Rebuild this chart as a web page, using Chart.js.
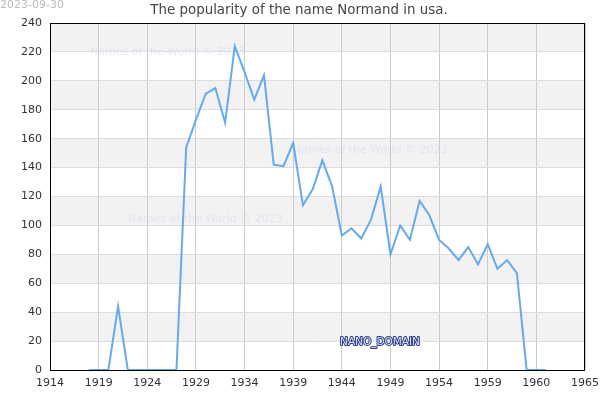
<!DOCTYPE html>
<html>
<head>
<meta charset="utf-8">
<script src="https://cdn.jsdelivr.net/npm/chart.js@4/dist/chart.umd.min.js"></script>
<style>
  html, body { margin: 0; padding: 0; background: #fff; }
  #wrap { width: 600px; height: 400px; }
</style>
</head>
<body>
<div id="wrap"><canvas id="chart" width="600" height="400"></canvas></div>
<script>
// Data
const years = [1918, 1919, 1920, 1921, 1922, 1923, 1924, 1925, 1926, 1927, 1928, 1929,
  1930, 1931, 1932, 1933, 1934, 1935, 1936, 1937, 1938, 1939, 1940, 1941, 1942, 1943,
  1944, 1945, 1946, 1947, 1948, 1949, 1950, 1951, 1952, 1953, 1954, 1955, 1956, 1957,
  1958, 1959, 1960, 1961, 1962, 1963, 1964, 1965];
const counts = [0, 0, 0, 44, 0, 0, 0, 0, 0, 0, 154, 173,
  191, 195, 171, 224, 206, 187, 204, 142, 141, 157, 114, 125, 145, 127,
  93, 98, 91, 104, 127, 80, 100, 90, 117, 107, 90, 84, 76, 85,
  73, 87, 70, 76, 67, 0, 0, 0];
const xTickLabels = ['1914', '1919', '1924', '1929', '1934', '1939', '1944', '1949', '1954', '1959', '1960', '1965'];
const yTicks = [0, 20, 40, 60, 80, 100, 120, 140, 160, 180, 200, 220, 240];

const FONT = '"DejaVu Sans", sans-serif';

// Background bands, border, title and watermarks
const decorPlugin = {
  id: 'decor',
  beforeDraw(chart) {
    const ctx = chart.ctx;
    const area = chart.chartArea;
    const y = chart.scales.y;
    ctx.save();
    ctx.fillStyle = '#ffffff';
    ctx.fillRect(0, 0, chart.width, chart.height);
    ctx.fillStyle = '#f2f2f2';
    for (let v = 20; v < 240; v += 40) {
      const top = y.getPixelForValue(v + 20);
      const bot = y.getPixelForValue(v);
      ctx.fillRect(area.left, top, area.right - area.left, bot - top);
    }
    ctx.restore();
  },
  beforeDatasetsDraw(chart) {
    const ctx = chart.ctx;
    ctx.save();
    ctx.font = '11px ' + FONT;
    ctx.fillStyle = 'rgba(215,215,240,0.55)';
    ctx.textBaseline = 'middle';
    ctx.fillText('Names of the World © 2023', 90, 52);
    ctx.fillText('Names of the World © 2023', 293, 150);
    ctx.fillText('Names of the World © 2023', 128, 219);
    ctx.restore();
  },
  afterDraw(chart) {
    const ctx = chart.ctx;
    const area = chart.chartArea;
    ctx.save();
    ctx.strokeStyle = '#000';
    ctx.lineWidth = 1;
    ctx.strokeRect(area.left + 0.5, area.top + 0.5, area.right - area.left - 1, area.bottom - area.top);
    // title
    ctx.font = '13.4px ' + FONT;
    ctx.fillStyle = '#444';
    ctx.textAlign = 'center';
    ctx.textBaseline = 'middle';
    ctx.fillText('The popularity of the name Normand in usa.', 299, 11);
    // date
    ctx.font = '11px ' + FONT;
    ctx.fillStyle = '#bbb';
    ctx.textAlign = 'left';
    ctx.fillText('2023-09-30', 0, 5);
    // NANO_DOMAIN
    ctx.font = '10.5px ' + FONT;
    ctx.textAlign = 'center';
    ctx.lineWidth = 2;
    ctx.lineJoin = 'round';
    ctx.strokeStyle = '#33438a';
    ctx.strokeText('NANO_DOMAIN', 380, 342);
    ctx.fillStyle = '#d8dcf0';
    ctx.fillText('NANO_DOMAIN', 380, 342);
    ctx.restore();
  }
};

new Chart(document.getElementById('chart'), {
  type: 'line',
  data: {
    datasets: [{
      data: years.map((yr, i) => ({ x: yr, y: counts[i] })),
      borderColor: '#66aaee',
      borderWidth: 2,
      pointRadius: 0,
      tension: 0,
      fill: false
    }]
  },
  options: {
    responsive: false,
    animation: false,
    layout: { padding: { top: 23, right: 15, left: 0, bottom: 0 } },
    plugins: {
      legend: { display: false },
      tooltip: { enabled: false }
    },
    scales: {
      x: {
        type: 'linear',
        min: 1914,
        max: 1969,
        afterBuildTicks(scale) {
          scale.ticks = xTickLabels.map((t, i) => ({ value: 1914 + i * 5 }));
        },
        afterFit(scale) {
          scale.height = 30;
          scale.paddingLeft = 0;
          scale.paddingRight = 0;
        },
        ticks: {
          autoSkip: false,
          maxRotation: 0,
          padding: 7,
          color: '#333',
          font: { family: FONT, size: 11 },
          callback: (v, i) => xTickLabels[i]
        },
        grid: { color: '#cccccc', drawTicks: false },
        border: { display: false }
      },
      y: {
        min: 0,
        max: 240,
        afterBuildTicks(scale) {
          scale.ticks = yTicks.map(v => ({ value: v }));
        },
        afterFit(scale) {
          scale.width = 50;
          scale.paddingTop = 0;
          scale.paddingBottom = 0;
        },
        ticks: {
          padding: 8,
          color: '#333',
          font: { family: FONT, size: 11 }
        },
        grid: { color: '#dddddd', drawTicks: false },
        border: { display: false }
      }
    }
  },
  plugins: [decorPlugin]
});
</script>
</body>
</html>
